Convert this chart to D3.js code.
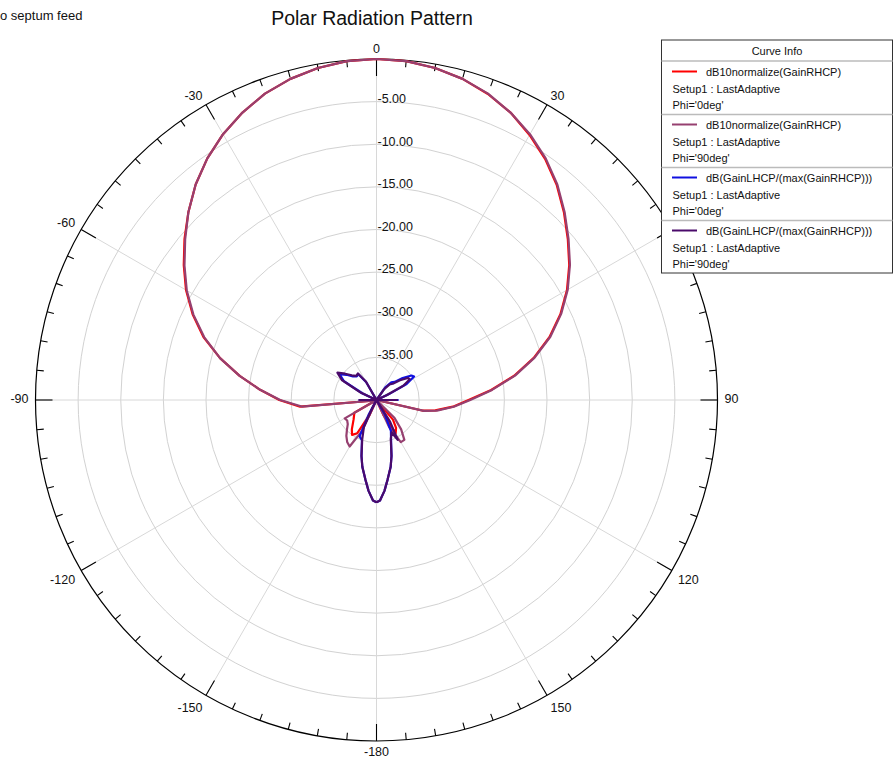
<!DOCTYPE html>
<html><head><meta charset="utf-8">
<script src="https://cdn.jsdelivr.net/npm/d3@7"></script>
<style>body{margin:0;background:#fff;font-family:Arial,"Liberation Sans",sans-serif}</style>
</head><body><svg id="c" width="895" height="764"></svg>
<script>
// ---- data: [theta (deg), dB] ----
const rhcpPhi0 = [[-180,-40],[-160,-40],[-155,-38],[-150,-35.5],[-145,-35],[-140,-35.5],[-130,-36.5],[-120,-37],[-115,-40],[-100,-39.5],[-95,-31],[-90,-28.6],[-85,-26.3],[-80,-23.7],[-75,-21],[-70,-18.4],[-65,-16.2],[-60,-14.2],[-55,-12.4],[-50,-10.6],[-45,-8.8],[-40,-7.0],[-35,-5.4],[-30,-4.0],[-25,-2.8],[-20,-1.75],[-15,-1.0],[-10,-0.45],[-5,-0.1],[0,0],[5,-0.1],[10,-0.45],[15,-1.0],[20,-1.8],[25,-2.8],[30,-4.1],[35,-5.5],[40,-7.1],[45,-8.9],[50,-10.7],[55,-12.4],[60,-14.2],[65,-16.2],[70,-18.4],[75,-20.9],[80,-23.6],[85,-26.5],[90,-29.2],[95,-31],[100,-33],[103,-34.5],[106,-40],[135,-40],[140,-37],[145,-36],[150,-35.5],[155,-38],[160,-40],[180,-40]];
const rhcpPhi90 = [[-180,-40],[-160,-40],[-155,-36],[-150,-33.7],[-145,-34],[-140,-34.5],[-135,-35.1],[-130,-35.6],[-125,-35.8],[-120,-35.7],[-115,-40],[-100,-39.5],[-95,-31.2],[-90,-28.7],[-85,-26.3],[-80,-23.7],[-75,-21],[-70,-18.5],[-65,-16.3],[-60,-14.3],[-55,-12.5],[-50,-10.7],[-45,-8.8],[-40,-7.0],[-35,-5.4],[-30,-4.0],[-25,-2.8],[-20,-1.75],[-15,-1.0],[-10,-0.45],[-5,-0.1],[0,0],[5,-0.1],[10,-0.45],[15,-1.0],[20,-1.75],[25,-2.8],[30,-4.0],[35,-5.4],[40,-7.0],[45,-8.8],[50,-10.6],[55,-12.3],[60,-14.1],[65,-16.1],[70,-18.3],[75,-20.8],[80,-23.5],[85,-26.4],[90,-29.0],[95,-30.9],[100,-32.8],[103,-34.3],[106,-40],[130,-40],[135,-37],[140,-35.5],[145,-34.3],[150,-34.3],[155,-36.5],[160,-40],[180,-40]];
const lhcpPhi0 = [[-180,-28],[-178,-28.2],[-175,-29.3],[-172,-30.6],[-168,-32],[-165,-33.2],[-160,-35],[-155,-35.3],[-152,-38],[-150,-40],[-95,-40],[-90,-38],[-85,-40],[-70,-40],[-65,-38.2],[-60,-35.6],[-55,-34.7],[-50,-35.4],[-45,-36.1],[-40,-36.4],[-35,-36.3],[-30,-37.6],[-25,-40],[30,-40],[35,-38.2],[40,-37.3],[45,-37],[50,-36],[55,-35],[58,-34.8],[62,-36],[65,-38.5],[70,-40],[85,-40],[90,-37.5],[95,-40],[145,-40],[150,-38],[155,-36],[160,-35],[165,-33.2],[168,-32],[172,-30.6],[175,-29.3],[178,-28.2],[180,-28]];
const lhcpPhi90 = [[-180,-28],[-178,-28.2],[-175,-29.3],[-172,-30.6],[-168,-32],[-165,-33.2],[-160,-35.1],[-155,-36.5],[-152,-39],[-150,-40],[-95,-40],[-90,-38],[-85,-40],[-70,-40],[-65,-38],[-60,-35.3],[-55,-34.4],[-50,-35.2],[-45,-35.9],[-40,-36.3],[-35,-36.2],[-30,-37.5],[-25,-40],[30,-40],[35,-38.5],[40,-37.6],[45,-37.3],[50,-36.4],[55,-35.5],[58,-35.4],[62,-36.4],[65,-38.7],[70,-40],[85,-40],[90,-37.6],[95,-40],[145,-40],[148,-37],[152,-34.7],[155,-35.8],[160,-35.1],[165,-33.2],[168,-32],[172,-30.6],[175,-29.3],[178,-28.2],[180,-28]];
const radialTicks = [-5,-10,-15,-20,-25,-30,-35];
const angleLabels = [0,30,60,90,120,150,180,-150,-120,-90,-60,-30];
const seriesNames = ["dB10normalize(GainRHCP)","dB10normalize(GainRHCP)","dB(GainLHCP/(max(GainRHCP)))","dB(GainLHCP/(max(GainRHCP)))"];
const seriesPhi = ["Phi='0deg'","Phi='90deg'","Phi='0deg'","Phi='90deg'"];
const seriesColors = ["#ff0000","#964070","#1010e0","#4a0a6a"];
const setupName = "Setup1 : LastAdaptive";

const svg = d3.select("#c");
const cx = 376.5, cy = 400, R = 341;
const r = d3.scaleLinear().domain([-40,0]).range([0,R]).clamp(true);
const ang = d3.scaleLinear().domain([-180,180]).range([-Math.PI,Math.PI]);
const g = svg.append("g").attr("transform",`translate(${cx},${cy})`);

// grid rings
g.selectAll("circle.ring").data(radialTicks).join("circle")
  .attr("r",d=>r(d)).attr("fill","none").attr("stroke","#d2d2d2").attr("stroke-width",1);
// spokes
const spokes = d3.range(-180,180,30);
g.selectAll("line.spoke").data(spokes).join("line")
  .attr("x1",0).attr("y1",0)
  .attr("x2",d=>R*Math.sin(ang(d))).attr("y2",d=>-R*Math.cos(ang(d)))
  .attr("stroke","#d8d8d8").attr("stroke-width",1);
// outer circle
g.append("circle").attr("r",R).attr("fill","none").attr("stroke","#000").attr("stroke-width",1.2);
// ticks
const ticks = d3.range(-180,180,5);
g.selectAll("line.tk").data(ticks).join("line")
  .attr("x1",d=>R*Math.sin(ang(d))).attr("y1",d=>-R*Math.cos(ang(d)))
  .attr("x2",d=>(R-(d%30===0?17:7))*Math.sin(ang(d))).attr("y2",d=>-(R-(d%30===0?17:7))*Math.cos(ang(d)))
  .attr("stroke","#000").attr("stroke-width",1.1);
// radial labels
g.selectAll("text.rl").data(radialTicks).join("text")
  .attr("x",1).attr("y",d=>-r(d)-2).attr("dominant-baseline","middle")
  .attr("font-size","12.5px").attr("fill","#111").text(d=>d.toFixed(2));
// angle labels
g.selectAll("text.al").data(angleLabels).join("text")
  .each(function(d){
    const a = ang(d), s=Math.sin(a), c=Math.cos(a);
    let rr = R+7, x = rr*s, y = -rr*c, anchor="middle";
    if (d===0){ y = -(R+9); }
    else if (Math.abs(d)===180){ y = R+12; }
    else {
      anchor = d<0 ? "end" : "start";
      if (Math.abs(d)!==90) y += (c<0 ? 7 : -2);
    }
    d3.select(this).attr("x",x).attr("y",y).attr("text-anchor",anchor)
      .attr("dominant-baseline","middle").attr("font-size","12.5px").attr("fill","#111")
      .text(Math.abs(d)===180 ? "-180" : d);
  });

// curves
const line = d3.lineRadial().angle(d=>ang(d[0])).radius(d=>r(d[1]));
const all = [rhcpPhi0, rhcpPhi90, lhcpPhi0, lhcpPhi90];
g.selectAll("path.curve").data(all).join("path")
  .attr("d",d=>line(d)).attr("fill","none")
  .attr("stroke",(d,i)=>seriesColors[i]).attr("stroke-width",2.2).attr("stroke-linejoin","round");

// title
svg.append("text").attr("x",372).attr("y",25).attr("text-anchor","middle")
  .attr("font-size","19.5px").attr("fill","#111").text("Polar Radiation Pattern");
svg.append("text").attr("x",0).attr("y",20)
  .attr("font-size","13px").attr("fill","#111").text("o septum feed");

// legend
const lx=661.5, ly=40, lw=231, lh=233;
const lg = svg.append("g");
lg.append("rect").attr("x",lx).attr("y",ly).attr("width",lw).attr("height",lh)
  .attr("fill","#fff").attr("stroke","#333").attr("stroke-width",1);
lg.append("text").attr("x",lx+lw/2).attr("y",55).attr("text-anchor","middle")
  .attr("font-size","11px").attr("fill","#111").text("Curve Info");
lg.append("line").attr("x1",lx).attr("x2",lx+lw).attr("y1",61).attr("y2",61).attr("stroke","#bbb").attr("stroke-width",1.5);
seriesNames.forEach((nm,i)=>{
  const y0 = 71.5 + i*53;
  lg.append("line").attr("x1",672).attr("x2",697).attr("y1",y0).attr("y2",y0)
    .attr("stroke",seriesColors[i]).attr("stroke-width",2);
  lg.append("text").attr("x",706).attr("y",y0+4).attr("font-size","11px").attr("fill","#111").text(nm);
  lg.append("text").attr("x",672.5).attr("y",y0+21).attr("font-size","11px").attr("fill","#111").text(setupName);
  lg.append("text").attr("x",672.5).attr("y",y0+37).attr("font-size","11px").attr("fill","#111").text(seriesPhi[i]);
  if (i<3) lg.append("line").attr("x1",lx).attr("x2",lx+lw).attr("y1",y0+43).attr("y2",y0+43).attr("stroke","#bbb").attr("stroke-width",1.5);
});
</script></body></html>
